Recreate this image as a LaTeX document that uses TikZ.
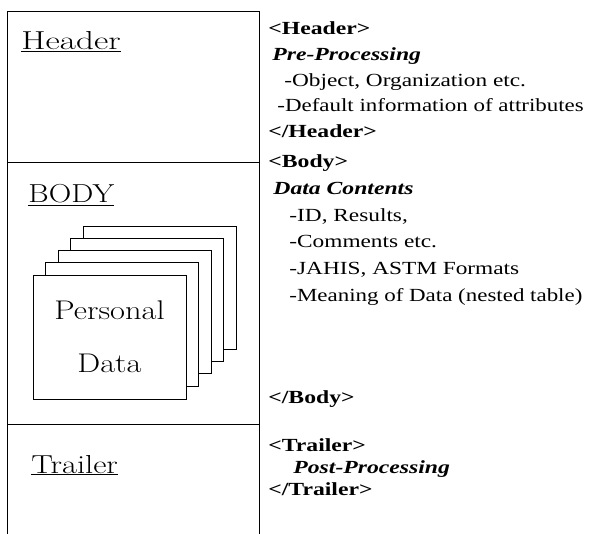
\documentclass[tikz,border=0pt]{standalone}
\usepackage{graphicx}
\usepackage{fontspec}
\newfontfamily\timesfont{Liberation Serif}
\usetikzlibrary{calc}

% stretched text, the scan is wider than tall
\newcommand{\wtext}[2]{\scalebox{#1}[1]{#2}}

\tikzset{
  part/.style={anchor=base west, inner sep=0pt, font=\fontsize{26}{29}\selectfont},
  tag/.style={anchor=base west, inner sep=0pt, font=\timesfont\fontsize{18.5}{21}\selectfont\bfseries},
  topic/.style={anchor=base west, inner sep=0pt, font=\timesfont\fontsize{18.5}{21}\selectfont\bfseries\itshape},
  item/.style={anchor=base west, inner sep=0pt, font=\timesfont\fontsize{18.5}{21}\selectfont},
  card/.style={draw, fill=white, line width=0.8pt}
}

\begin{document}
\begin{tikzpicture}[x=1pt, y=-1pt, line width=0.8pt]
\useasboundingbox (0,0) rectangle (589,534);

% frame of the three parts
\draw (7,534) -- (7,11) -- (259,11) -- (259,534);
\draw (7,162) -- (259,162);
\draw (7,424) -- (259,424);

% part names
\node[part] (header) at (21,50) {\wtext{1.35}{\underline{Header}}};
\node[part] (body) at (28,203) {\wtext{1.2}{\underline{BODY}}};
\node[part] (trailer) at (31,473) {\wtext{1.25}{\underline{Trailer}}};

% stack of personal data cards
\draw[card] (83,226) rectangle (236,349);
\draw[card] (70.5,238.3) rectangle (223.5,361.3);
\draw[card] (58,250.6) rectangle (211,373.6);
\draw[card] (45.5,262.9) rectangle (198.5,386.9);
\draw[card] (33,275.2) rectangle (186,399.2) node (front) [pos=.5, align=center,
  font=\fontsize{27}{53}\selectfont] {\wtext{1.2}{Personal}\\\wtext{1.2}{Data}};

% header tags
\node[tag] (hopen) at (268,35) {\wtext{1.28}{<Header>}};
\node[topic] (pre) at (272,61) {\wtext{1.28}{Pre-Processing}};
\node[item] (obj) at (284,87) {\wtext{1.26}{-Object, Organization etc.}};
\node[item] (dflt) at (277,112) {\wtext{1.24}{-Default information of attributes}};
\node[tag] (hclose) at (268,138) {\wtext{1.28}{</Header>}};

% body tags
\node[tag] (bopen) at (268,168) {\wtext{1.28}{<Body>}};
\node[topic] (data) at (273,195) {\wtext{1.28}{Data Contents}};
\node[item] (ids) at (289,222) {\wtext{1.26}{-ID, Results,}};
\node[item] (cmt) at (289,248) {\wtext{1.26}{-Comments etc.}};
\node[item] (fmt) at (289,275) {\wtext{1.26}{-JAHIS, ASTM Formats}};
\node[item] (mean) at (289,302) {\wtext{1.24}{-Meaning of Data (nested table)}};
\node[tag] (bclose) at (268,403) {\wtext{1.28}{</Body>}};

% trailer tags
\node[tag] (topen) at (268,451) {\wtext{1.28}{<Trailer>}};
\node[topic] (post) at (293,473) {\wtext{1.28}{Post-Processing}};
\node[tag] (tclose) at (268,495) {\wtext{1.28}{</Trailer>}};
\end{tikzpicture}
\end{document}
